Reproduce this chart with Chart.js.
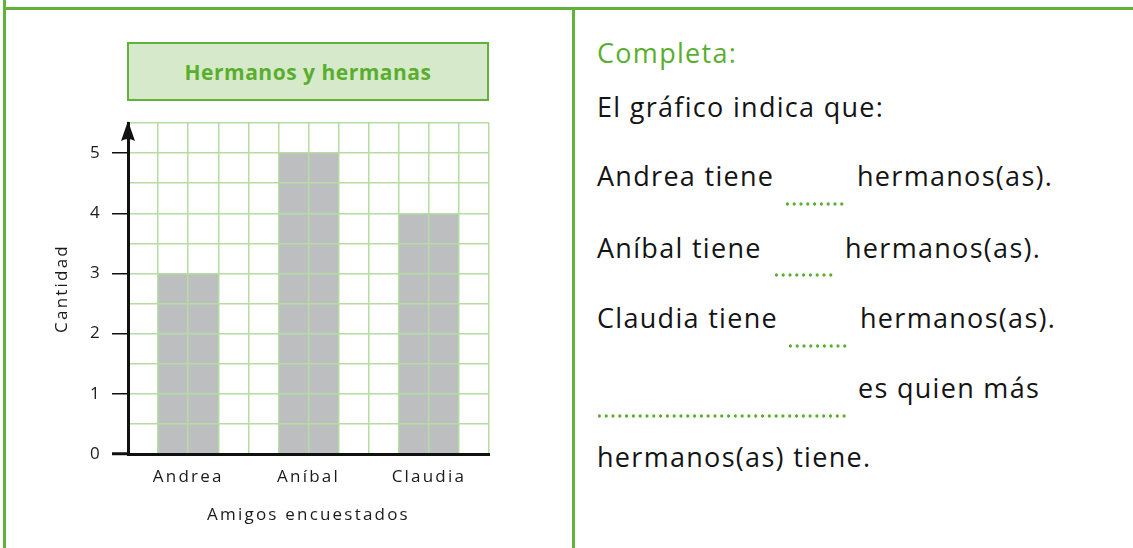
<!DOCTYPE html>
<html lang="es">
<head>
<meta charset="utf-8">
<title>Hermanos y hermanas</title>
<script src="https://cdn.jsdelivr.net/npm/chart.js@4/dist/chart.umd.min.js"></script>
<style>
    html, body { margin: 0; padding: 0; background: #fff; }
    body { width: 1133px; height: 548px; position: relative; overflow: hidden; font-family: "Open Sans", "Noto Sans", sans-serif; color: #141414; }
    .line { position: absolute; background: #62b23a; }
    #chartBox { position: absolute; left: 0; top: 0; width: 573px; height: 548px; }
    #titleBox {
        position: absolute; left: 127px; top: 42px; width: 358px; height: 55px;
        border: 2.5px solid #62b23a; background: #d6eacb;
        color: #5aae2e; font-weight: 700; font-size: 21px; letter-spacing: 0.5px;
        display: flex; align-items: center; justify-content: center;
    }
    .txt { position: absolute; font-size: 27px; line-height: 34px; letter-spacing: 1.3px; white-space: nowrap; }
    .green { color: #5aae2e; }
    .dots {
        position: absolute; height: 4px;
        background-image: radial-gradient(circle, #5aae2e 1.4px, transparent 1.9px);
        background-size: 6.8px 4px; background-repeat: repeat-x;
    }
</style>
</head>
<body>
<div class="line" style="left:3px; top:0; width:3px; height:548px;"></div>
<div class="line" style="left:3px; top:7px; width:1130px; height:3px;"></div>
<div class="line" style="left:572px; top:8px; width:3px; height:540px;"></div>

<div id="chartBox"><canvas id="hermanosChart"></canvas></div>
<div id="titleBox">Hermanos y hermanas</div>

<div class="txt green" style="left:597px; top:36px;">Completa:</div>
<div class="txt" style="left:597px; top:90px;">El gráfico indica que:</div>

<div class="txt" style="left:597px; top:159px;">Andrea tiene</div>
<div class="dots" style="left:784px; top:202px; width:62px;"></div>
<div class="txt" style="left:857px; top:159px;">hermanos(as).</div>

<div class="txt" style="left:597px; top:231px;">Aníbal tiene</div>
<div class="dots" style="left:773px; top:273px; width:62px;"></div>
<div class="txt" style="left:845px; top:231px;">hermanos(as).</div>

<div class="txt" style="left:597px; top:301px;">Claudia tiene</div>
<div class="dots" style="left:787px; top:344px; width:62px;"></div>
<div class="txt" style="left:860px; top:301px;">hermanos(as).</div>

<div class="dots" style="left:596px; top:414px; width:253px;"></div>
<div class="txt" style="left:858px; top:371px;">es quien más</div>
<div class="txt" style="left:597px; top:440px;">hermanos(as) tiene.</div>

<script>
// Chart data
const categories = ['Andrea', 'Aníbal', 'Claudia'];
const hermanos = [3, 5, 4];
const yTickLabels = [0, 1, 2, 3, 4, 5];
const yMax = 5.5;
const gridColumns = 12;

const GREEN_GRID = '#b5dca2';
const AXIS_BLACK = '#111111';

document.addEventListener('DOMContentLoaded', function() {
    initializeChart();
});

// Letter spacing for the axis texts (canvas state resets on resize)
const spacingPlugin = {
    id: 'spacing',
    beforeUpdate(chart) { chart.ctx.letterSpacing = '2.2px'; },
    beforeDraw(chart) { chart.ctx.letterSpacing = '2.2px'; }
};

// Arrow head on top of the y axis
const arrowPlugin = {
    id: 'arrow',
    afterDraw(chart) {
        const ctx = chart.ctx;
        const x = chart.scales.y.left + chart.scales.y.width;
        const top = chart.chartArea.top;
        ctx.save();
        ctx.fillStyle = AXIS_BLACK;
        ctx.beginPath();
        ctx.moveTo(x, top - 2);
        ctx.lineTo(x + 7, top + 18);
        ctx.quadraticCurveTo(x, top + 14, x - 7, top + 18);
        ctx.closePath();
        ctx.fill();
        ctx.restore();
    }
};

function initializeChart() {
    const ctx = document.getElementById('hermanosChart');
    if (!ctx) return;

    Chart.defaults.font.family = '"Open Sans", "Noto Sans", sans-serif';
    Chart.defaults.font.size = 17;
    Chart.defaults.color = '#1a1a1a';

    new Chart(ctx, {
        type: 'bar',
        data: {
            labels: categories,
            datasets: [{
                label: 'Cantidad',
                data: hermanos,
                backgroundColor: '#bdbec0',
                borderWidth: 0,
                barPercentage: 0.5,
                categoryPercentage: 1,
                xAxisID: 'x',
                yAxisID: 'y'
            }]
        },
        options: {
            responsive: true,
            maintainAspectRatio: false,
            animation: false,
            layout: {
                padding: { top: 123, right: 84, left: 0, bottom: 0 }
            },
            plugins: {
                legend: { display: false },
                title: { display: false },
                tooltip: { enabled: false }
            },
            scales: {
                x: {
                    type: 'category',
                    position: 'bottom',
                    grid: { display: false, drawTicks: false },
                    border: { display: true, color: AXIS_BLACK, width: 3, z: 2 },
                    ticks: { padding: 13 },
                    title: {
                        display: true,
                        text: 'Amigos encuestados',
                        padding: { top: 0, bottom: 23 }
                    },
                    afterFit: function(axis) { axis.height = 94; }
                },
                xg: {
                    type: 'linear',
                    position: 'top',
                    min: 0,
                    max: gridColumns,
                    offset: false,
                    ticks: { display: false, stepSize: 1 },
                    grid: {
                        offset: false,
                        drawTicks: false,
                        z: 1,
                        lineWidth: 1.5,
                        color: c => c.tick && c.tick.value === 0 ? 'rgba(0,0,0,0)' : GREEN_GRID
                    },
                    border: { display: false },
                    afterFit: function(axis) { axis.height = 0; }
                },
                y: {
                    type: 'linear',
                    min: 0,
                    max: yMax,
                    ticks: {
                        stepSize: 0.5,
                        padding: 10,
                        autoSkip: false,
                        callback: function(value) {
                            return yTickLabels.includes(value) ? String(value) : '';
                        }
                    },
                    grid: {
                        z: 1,
                        lineWidth: 1.5,
                        tickLength: 16,
                        color: c => c.tick && c.tick.value === 0 ? 'rgba(0,0,0,0)' : GREEN_GRID,
                        tickColor: c => yTickLabels.includes(c.tick.value) ? AXIS_BLACK : 'rgba(0,0,0,0)',
                        tickWidth: c => c.tick.value === 0 ? 3 : 1.5
                    },
                    border: { display: true, color: AXIS_BLACK, width: 3, z: 2 },
                    title: {
                        display: true,
                        text: 'Cantidad',
                        padding: { top: 52, bottom: 0 }
                    },
                    afterFit: function(axis) { axis.width = 128; }
                }
            }
        },
        plugins: [spacingPlugin, arrowPlugin]
    });
}
</script>
</body>
</html>
